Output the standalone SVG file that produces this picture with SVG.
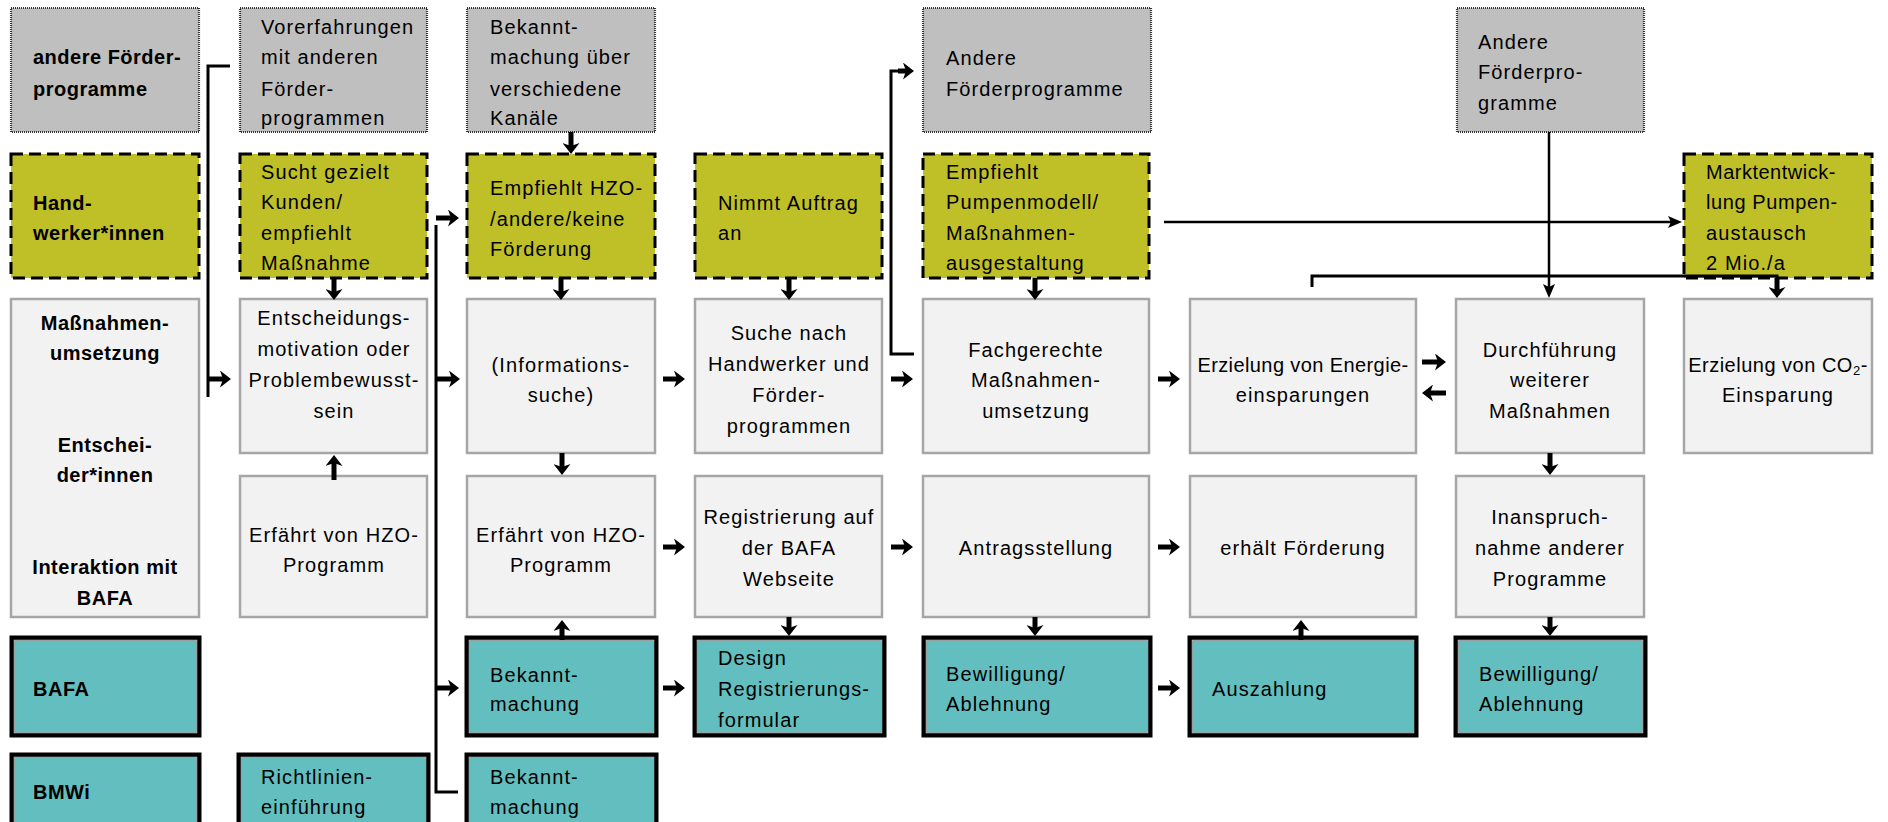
<svg xmlns="http://www.w3.org/2000/svg" width="1888" height="822" viewBox="0 0 1888 822">
<style>
.t{font-family:"Liberation Sans",Arial,sans-serif;font-size:20px;letter-spacing:1.1px;fill:#000}
.c{text-anchor:middle}
.b{font-weight:bold;letter-spacing:0.5px}
.gray{fill:#BFBFBF;stroke:#333;stroke-width:2.2;stroke-dasharray:1 1}
.olive{fill:#BFBF28;stroke:#000;stroke-width:3;stroke-dasharray:12 6}
.light{fill:#F2F2F2;stroke:#A6A6A6;stroke-width:2.5}
.teal{fill:#63BFBF;stroke:#000;stroke-width:5}
.tin{fill:none;stroke:#C8C8C8;stroke-width:0.9}
.a{stroke:#000;stroke-width:5;fill:none;marker-end:url(#ah)}
.l{stroke:#000;stroke-width:3;fill:none}
.th{stroke:#000;stroke-width:2.5;fill:none;marker-end:url(#aht)}
</style>
<defs>
<marker id="ah" viewBox="0 0 11 17" refX="3" refY="8.5" markerWidth="11" markerHeight="17" markerUnits="userSpaceOnUse" orient="auto">
<path d="M0,0 L11,8.5 L0,17 L3,8.5 z" fill="#000"/>
</marker>
<marker id="aht" viewBox="0 0 14 12" refX="6" refY="6" markerWidth="14" markerHeight="12" markerUnits="userSpaceOnUse" orient="auto">
<path d="M0,0 L14,6 L0,12 L3,6 z" fill="#000"/>
</marker>
</defs>
<rect width="1888" height="822" fill="#fff"/>

<!-- Row 1: grey -->
<g id="lbl-andere">
<rect class="gray" x="11" y="8" width="188" height="124"/>
<text class="t b" x="33" y="64">andere Förder-</text>
<text class="t b" x="33" y="96">programme</text>
</g>
<g id="n-vorerfahrungen">
<rect class="gray" x="240" y="8" width="187" height="124"/>
<text class="t" x="261" y="34">Vorerfahrungen</text>
<text class="t" x="261" y="64">mit anderen</text>
<text class="t" x="261" y="96">Förder-</text>
<text class="t" x="261" y="125">programmen</text>
</g>
<g id="n-bekannt-kanaele">
<rect class="gray" x="467" y="8" width="188" height="124"/>
<text class="t" x="490" y="34">Bekannt-</text>
<text class="t" x="490" y="64">machung über</text>
<text class="t" x="490" y="96">verschiedene</text>
<text class="t" x="490" y="125">Kanäle</text>
</g>
<g id="n-andere-foerder1">
<rect class="gray" x="923" y="8" width="228" height="124"/>
<text class="t" x="946" y="65">Andere</text>
<text class="t" x="946" y="96">Förderprogramme</text>
</g>
<g id="n-andere-foerder2">
<rect class="gray" x="1457" y="8" width="187" height="124"/>
<text class="t" x="1478" y="49">Andere</text>
<text class="t" x="1478" y="79">Förderpro-</text>
<text class="t" x="1478" y="110">gramme</text>
</g>

<!-- Row 2: olive -->
<g id="lbl-handwerker">
<rect class="olive" x="11" y="154" width="188" height="124"/>
<text class="t b" x="33" y="210">Hand-</text>
<text class="t b" x="33" y="240">werker*innen</text>
</g>
<g id="n-sucht">
<rect class="olive" x="240" y="154" width="187" height="124"/>
<text class="t" x="261" y="179">Sucht gezielt</text>
<text class="t" x="261" y="209">Kunden/</text>
<text class="t" x="261" y="240">empfiehlt</text>
<text class="t" x="261" y="270">Maßnahme</text>
</g>
<g id="n-empfiehlt-hzo">
<rect class="olive" x="467" y="154" width="188" height="124"/>
<text class="t" x="490" y="195">Empfiehlt HZO-</text>
<text class="t" x="490" y="226">/andere/keine</text>
<text class="t" x="490" y="256">Förderung</text>
</g>
<g id="n-nimmt">
<rect class="olive" x="695" y="154" width="187" height="124"/>
<text class="t" x="718" y="210">Nimmt Auftrag</text>
<text class="t" x="718" y="240">an</text>
</g>
<g id="n-empfiehlt-pumpe">
<rect class="olive" x="923" y="154" width="226" height="124"/>
<text class="t" x="946" y="179">Empfiehlt</text>
<text class="t" x="946" y="209">Pumpenmodell/</text>
<text class="t" x="946" y="240">Maßnahmen-</text>
<text class="t" x="946" y="270">ausgestaltung</text>
</g>
<g id="n-markt">
<rect class="olive" x="1684" y="154" width="188" height="124"/>
<text class="t" x="1706" y="179" style="letter-spacing:0.5px">Marktentwick-</text>
<text class="t" x="1706" y="209" style="letter-spacing:0.6px">lung Pumpen-</text>
<text class="t" x="1706" y="240">austausch</text>
<text class="t" x="1706" y="270">2 Mio./a</text>
</g>

<!-- Rows 3-4: light -->
<g id="lbl-entscheider">
<rect class="light" x="11" y="299" width="188" height="318"/>
<text class="t b c" x="105" y="330">Maßnahmen-</text>
<text class="t b c" x="105" y="360">umsetzung</text>
<text class="t b c" x="105" y="452">Entschei-</text>
<text class="t b c" x="105" y="482">der*innen</text>
<text class="t b c" x="105" y="574">Interaktion mit</text>
<text class="t b c" x="105" y="605">BAFA</text>
</g>
<g id="n-entscheidung">
<rect class="light" x="240" y="299" width="187" height="154"/>
<text class="t c" x="334" y="325">Entscheidungs-</text>
<text class="t c" x="334" y="356">motivation oder</text>
<text class="t c" x="334" y="387">Problembewusst-</text>
<text class="t c" x="334" y="418">sein</text>
</g>
<g id="n-info">
<rect class="light" x="467" y="299" width="188" height="154"/>
<text class="t c" x="561" y="372">(Informations-</text>
<text class="t c" x="561" y="402">suche)</text>
</g>
<g id="n-suche">
<rect class="light" x="695" y="299" width="187" height="154"/>
<text class="t c" x="789" y="340">Suche nach</text>
<text class="t c" x="789" y="371">Handwerker und</text>
<text class="t c" x="789" y="402">Förder-</text>
<text class="t c" x="789" y="433">programmen</text>
</g>
<g id="n-fachgerecht">
<rect class="light" x="923" y="299" width="226" height="154"/>
<text class="t c" x="1036" y="357">Fachgerechte</text>
<text class="t c" x="1036" y="387">Maßnahmen-</text>
<text class="t c" x="1036" y="418">umsetzung</text>
</g>
<g id="n-energie">
<rect class="light" x="1190" y="299" width="226" height="154"/>
<text class="t c" x="1303" y="372" style="letter-spacing:0.4px">Erzielung von Energie-</text>
<text class="t c" x="1303" y="402">einsparungen</text>
</g>
<g id="n-durchfuehrung">
<rect class="light" x="1456" y="299" width="188" height="154"/>
<text class="t c" x="1550" y="357">Durchführung</text>
<text class="t c" x="1550" y="387">weiterer</text>
<text class="t c" x="1550" y="418">Maßnahmen</text>
</g>
<g id="n-co2">
<rect class="light" x="1684" y="299" width="188" height="154"/>
<text class="t c" x="1778" y="372" style="letter-spacing:0.5px">Erzielung von CO<tspan font-size="13" dy="3">2</tspan><tspan dy="-3">-</tspan></text>
<text class="t c" x="1778" y="402">Einsparung</text>
</g>
<g id="n-erfaehrt1">
<rect class="light" x="240" y="476" width="187" height="141"/>
<text class="t c" x="334" y="542">Erfährt von HZO-</text>
<text class="t c" x="334" y="572">Programm</text>
</g>
<g id="n-erfaehrt2">
<rect class="light" x="467" y="476" width="188" height="141"/>
<text class="t c" x="561" y="542">Erfährt von HZO-</text>
<text class="t c" x="561" y="572">Programm</text>
</g>
<g id="n-registrierung">
<rect class="light" x="695" y="476" width="187" height="141"/>
<text class="t c" x="789" y="524">Registrierung auf</text>
<text class="t c" x="789" y="555">der BAFA</text>
<text class="t c" x="789" y="586">Webseite</text>
</g>
<g id="n-antrag">
<rect class="light" x="923" y="476" width="226" height="141"/>
<text class="t c" x="1036" y="555">Antragsstellung</text>
</g>
<g id="n-erhaelt">
<rect class="light" x="1190" y="476" width="226" height="141"/>
<text class="t c" x="1303" y="555">erhält Förderung</text>
</g>
<g id="n-inanspruch">
<rect class="light" x="1456" y="476" width="188" height="141"/>
<text class="t c" x="1550" y="524">Inanspruch-</text>
<text class="t c" x="1550" y="555">nahme anderer</text>
<text class="t c" x="1550" y="586">Programme</text>
</g>

<!-- Row 5: BAFA -->
<g id="lbl-bafa">
<rect class="teal" x="12" y="638" width="187" height="97"/>
<rect class="tin" x="14.2" y="640.2" width="182.6" height="92.6"/>
<text class="t b" x="33" y="696">BAFA</text>
</g>
<g id="n-bafa-bekannt">
<rect class="teal" x="467" y="638" width="189" height="97"/>
<rect class="tin" x="469.2" y="640.2" width="184.6" height="92.6"/>
<text class="t" x="490" y="682">Bekannt-</text>
<text class="t" x="490" y="711">machung</text>
</g>
<g id="n-design">
<rect class="teal" x="695" y="638" width="189" height="97"/>
<rect class="tin" x="697.2" y="640.2" width="184.6" height="92.6"/>
<text class="t" x="718" y="665">Design</text>
<text class="t" x="718" y="696">Registrierungs-</text>
<text class="t" x="718" y="727">formular</text>
</g>
<g id="n-bewilligung1">
<rect class="teal" x="924" y="638" width="226" height="97"/>
<rect class="tin" x="926.2" y="640.2" width="221.6" height="92.6"/>
<text class="t" x="946" y="681">Bewilligung/</text>
<text class="t" x="946" y="711">Ablehnung</text>
</g>
<g id="n-auszahlung">
<rect class="teal" x="1190" y="638" width="226" height="97"/>
<rect class="tin" x="1192.2" y="640.2" width="221.6" height="92.6"/>
<text class="t" x="1212" y="696">Auszahlung</text>
</g>
<g id="n-bewilligung2">
<rect class="teal" x="1456" y="638" width="189" height="97"/>
<rect class="tin" x="1458.2" y="640.2" width="184.6" height="92.6"/>
<text class="t" x="1479" y="681">Bewilligung/</text>
<text class="t" x="1479" y="711">Ablehnung</text>
</g>

<!-- Row 6: BMWi -->
<g id="lbl-bmwi">
<rect class="teal" x="12" y="755" width="187" height="90"/>
<rect class="tin" x="14.2" y="757.2" width="182.6" height="90"/>
<text class="t b" x="33" y="799">BMWi</text>
</g>
<g id="n-richtlinien">
<rect class="teal" x="239" y="755" width="189" height="90"/>
<rect class="tin" x="241.2" y="757.2" width="184.6" height="90"/>
<text class="t" x="261" y="784">Richtlinien-</text>
<text class="t" x="261" y="814">einführung</text>
</g>
<g id="n-bmwi-bekannt">
<rect class="teal" x="467" y="755" width="189" height="90"/>
<rect class="tin" x="469.2" y="757.2" width="184.6" height="90"/>
<text class="t" x="490" y="784">Bekannt-</text>
<text class="t" x="490" y="814">machung</text>
</g>

<!-- Connectors -->
<g id="connectors">
<polyline class="l" points="230,66 208,66 208,397"/>
<line class="a" x1="208" y1="379" x2="223" y2="379"/>
<line class="a" x1="436" y1="218" x2="451" y2="218"/>
<polyline class="l" points="436,225 436,792 458,792"/>
<line class="a" x1="437" y1="379" x2="452" y2="379"/>
<line class="a" x1="437" y1="688" x2="451" y2="688"/>
<line class="a" x1="571" y1="132" x2="571" y2="146"/>
<line class="a" x1="334" y1="278" x2="334" y2="292"/>
<line class="a" x1="561" y1="278" x2="561" y2="292"/>
<line class="a" x1="789" y1="278" x2="789" y2="292"/>
<line class="a" x1="1035" y1="278" x2="1035" y2="292"/>
<polyline class="l" points="914,354 891,354 891,71 900,71"/>
<line class="a" x1="898" y1="71" x2="906" y2="71"/>
<line class="th" x1="1164" y1="222" x2="1674" y2="222"/>
<line class="th" x1="1549" y1="132" x2="1549" y2="290"/>
<polyline class="l" points="1312,287 1312,276 1777,276 1777,282"/>
<line class="a" x1="1777" y1="278" x2="1777" y2="290"/>
<line class="a" x1="663" y1="379" x2="677" y2="379"/>
<line class="a" x1="891" y1="379" x2="905" y2="379"/>
<line class="a" x1="1158" y1="379" x2="1172" y2="379"/>
<line class="a" x1="1422" y1="362" x2="1438" y2="362"/>
<line class="a" x1="1446" y1="393" x2="1430" y2="393"/>
<line class="a" x1="562" y1="453" x2="562" y2="467"/>
<line class="a" x1="1550" y1="453" x2="1550" y2="467"/>
<line class="a" x1="334" y1="480" x2="334" y2="463"/>
<line class="a" x1="663" y1="547" x2="677" y2="547"/>
<line class="a" x1="891" y1="547" x2="905" y2="547"/>
<line class="a" x1="1158" y1="547" x2="1172" y2="547"/>
<line class="a" x1="789" y1="617" x2="789" y2="628"/>
<line class="a" x1="1035" y1="617" x2="1035" y2="628"/>
<line class="a" x1="1550" y1="617" x2="1550" y2="628"/>
<line class="a" x1="562" y1="640" x2="562" y2="628"/>
<line class="a" x1="1301" y1="640" x2="1301" y2="628"/>
<line class="a" x1="663" y1="688" x2="677" y2="688"/>
<line class="a" x1="1158" y1="688" x2="1172" y2="688"/>
</g>
</svg>
